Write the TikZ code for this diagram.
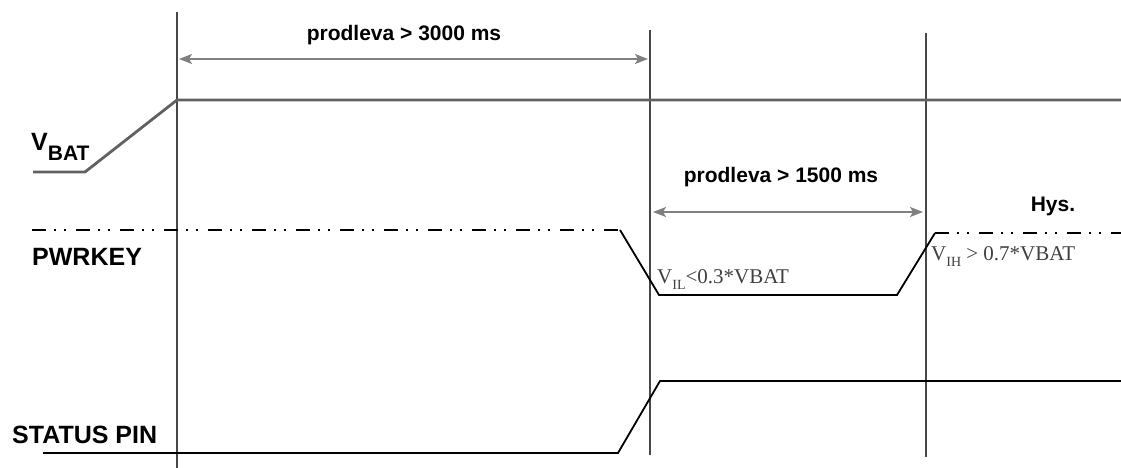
\documentclass[tikz,border=0pt]{standalone}
\usepackage{fontspec}
\setmainfont{Liberation Sans}
\newfontfamily\timesfont{Liberation Serif}
\usetikzlibrary{arrows.meta}

\tikzset{
	marker/.style={line width=1.8pt, black!72},
	supply/.style={line width=2.8pt, black!62},
	wave/.style={line width=1.8pt, black},
	level/.style={line width=1.5pt, black, dash pattern=on 14pt off 8pt on 2pt off 8pt on 2pt off 10pt},
	span/.style={line width=1.6pt, black!50, {Stealth[length=13pt,width=10pt,inset=3pt]}-{Stealth[length=13pt,width=10pt,inset=3pt]}},
	sigtitle/.style={font=\bfseries\fontsize{25}{25}\selectfont, inner sep=0pt, anchor=base west},
	delay/.style={font=\bfseries\fontsize{21}{21}\selectfont, inner sep=0pt, anchor=base},
	limit/.style={font=\timesfont\fontsize{21}{21}\selectfont, text=black!75, inner sep=0pt, anchor=base west},
}

\begin{document}
\begin{tikzpicture}[x=1pt, y=-1pt]
	\useasboundingbox (0,0) rectangle (1121,468);

	% time markers
	\coordinate (t1) at (177,12);   \coordinate (b1) at (177,468);
	\coordinate (t2) at (650,30);   \coordinate (b2) at (650,455);
	\coordinate (t3) at (926,33);   \coordinate (b3) at (926,457);
	\draw[marker] (t1) -- (b1);
	\draw[marker] (t2) -- (b2);
	\draw[marker] (t3) -- (b3);

	% VBAT
	\node[sigtitle] (vbat) at (31,150) {V\raisebox{-10pt}{\fontsize{21}{21}\selectfont BAT}};
	\coordinate (v0) at (33,172);
	\coordinate (v1) at (85,172);
	\coordinate (v2) at (177,100);
	\coordinate (v3) at (1121,100);
	\draw[supply] (v0) -- (v1) -- (v2) -- (v3);

	% PWRKEY
	\node[sigtitle] (pwrkey) at (32,265) {PWRKEY};
	\coordinate (p0) at (32,230);
	\coordinate (p1) at (620,230);
	\coordinate (p2) at (659,295);
	\coordinate (p3) at (897,295);
	\coordinate (p4) at (935,233);
	\coordinate (p5) at (1121,233);
	\draw[level] (p0) -- (p1);
	\draw[wave] (p1) -- (p2) -- (p3) -- (p4);
	\draw[level] (p4) -- (p5);
	\node[limit] (vil) at (657,283) {V\raisebox{-6pt}{\fontsize{14}{14}\selectfont IL}<0.3*VBAT};
	\node[limit] (vih) at (931,260) {V\raisebox{-6pt}{\fontsize{14}{14}\selectfont IH} > 0.7*VBAT};
	\node[delay] (hys) at (1053,211) {Hys.};

	% STATUS PIN
	\node[sigtitle] (status) at (12,443) {STATUS PIN};
	\coordinate (s0) at (43,453);
	\coordinate (s1) at (618,453);
	\coordinate (s2) at (660,381);
	\coordinate (s3) at (1121,381);
	\draw[wave] (s0) -- (s1) -- (s2) -- (s3);

	% delays
	\coordinate (a1) at (179,59);  \coordinate (a2) at (648,59);
	\coordinate (a3) at (653,212); \coordinate (a4) at (923,212);
	\draw[span] (a1) -- (a2);
	\draw[span] (a3) -- (a4);
	\node[delay] (d1) at (404,41) {prodleva > 3000 ms};
	\node[delay] (d2) at (781,182) {prodleva > 1500 ms};

\end{tikzpicture}
\end{document}
